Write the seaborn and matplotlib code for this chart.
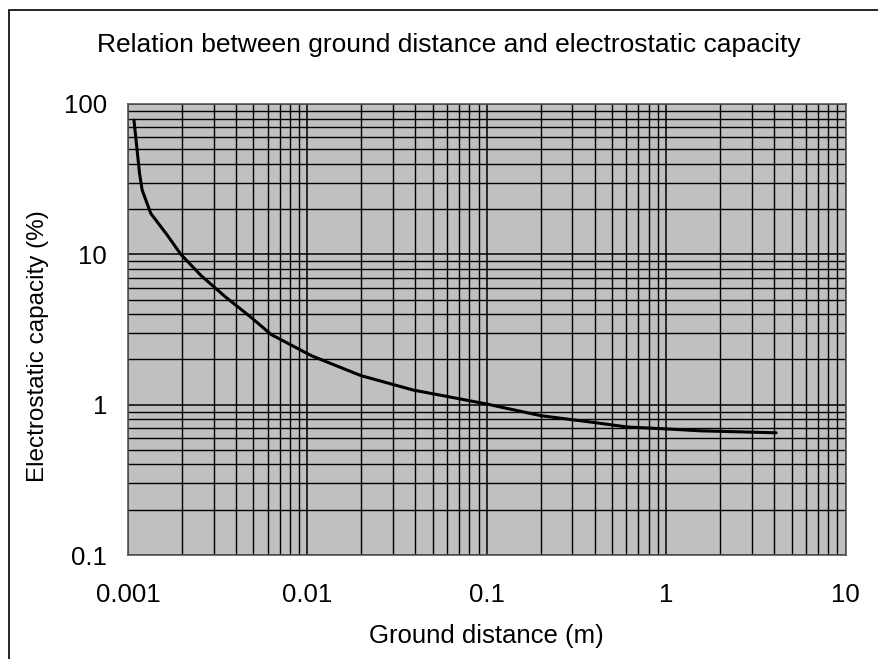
import numpy as np
import pandas as pd
import matplotlib
matplotlib.use("Agg")
import matplotlib.pyplot as plt
import seaborn as sns
from matplotlib.ticker import LogLocator, FixedLocator, FixedFormatter, NullFormatter

# values
distance = [0.00108, 0.00116, 0.0012, 0.00134, 0.00165, 0.00197, 0.00255, 0.0035,
            0.00484, 0.00628, 0.0105, 0.0199, 0.039, 0.0716, 0.1, 0.2, 0.4,
            0.61, 1.0, 1.55, 4.1]
capacity = [78, 34.5, 26.7, 18.7, 13.5, 10, 7.24, 5.2,
            3.82, 2.93, 2.12, 1.56, 1.25, 1.09, 1.01, 0.845, 0.76,
            0.71, 0.69, 0.67, 0.65]

xticks = [0.001, 0.01, 0.1, 1, 10]
xlabels = ["0.001", "0.01", "0.1", "1", "10"]
yticks = [0.1, 1, 10, 100]
ylabels = ["0.1", "1", "10", "100"]

df = pd.DataFrame({"distance": distance, "capacity": capacity})

sns.set_theme(style="white")
plt.rcParams["font.family"] = ["Liberation Sans", "DejaVu Sans"]
plt.rcParams["text.color"] = "black"
plt.rcParams["axes.labelcolor"] = "black"
plt.rcParams["xtick.color"] = "black"
plt.rcParams["ytick.color"] = "black"

fig = plt.figure(figsize=(8.79, 6.59), dpi=100)
ax = fig.add_axes([0.1456, 0.1578, 0.8163, 0.6844])
ax.set_facecolor("#c0c0c0")

ax.set_xscale("log")
ax.set_yscale("log")
ax.set_xlim(0.001, 10)
ax.set_ylim(0.1, 100)

sns.lineplot(data=df, x="distance", y="capacity", ax=ax, color="black", linewidth=2.2)

ax.xaxis.set_major_locator(FixedLocator(xticks))
ax.xaxis.set_major_formatter(FixedFormatter(xlabels))
ax.yaxis.set_major_locator(FixedLocator(yticks))
ax.yaxis.set_major_formatter(FixedFormatter(ylabels))
ax.xaxis.set_minor_locator(LogLocator(base=10, subs=np.arange(2, 10)))
ax.yaxis.set_minor_locator(LogLocator(base=10, subs=np.arange(2, 10)))
ax.xaxis.set_minor_formatter(NullFormatter())
ax.yaxis.set_minor_formatter(NullFormatter())

ax.grid(True, which="major", color="black", linewidth=1.1)
ax.grid(True, which="minor", color="black", linewidth=1.0)
ax.set_axisbelow(True)
ax.tick_params(which="both", length=0)
ax.tick_params(axis="x", labelsize=18.5, pad=20)
ax.tick_params(axis="y", labelsize=18.5, pad=15)

for s in ax.spines.values():
    s.set_color("#555555")
    s.set_linewidth(1.2)

ax.set_xlabel("Ground distance (m)", fontsize=18.5)
ax.xaxis.set_label_coords(0.5, -0.152)
ax.set_ylabel("Electrostatic capacity (%)", fontsize=17.5)
ax.yaxis.set_label_coords(-0.11, 0.463)
fig.text(0.511, 0.932, "Relation between ground distance and electrostatic capacity",
         ha="center", va="center", fontsize=19)

# outer frame (right/bottom fall outside the image, like the reference)
fig.patches.append(plt.Rectangle((8.5 / 879, -0.1), 1.2, 1.1 - 9.5 / 659,
                                 transform=fig.transFigure, fill=False,
                                 edgecolor="black", linewidth=1.2))

fig.savefig("out.png", dpi=100)
